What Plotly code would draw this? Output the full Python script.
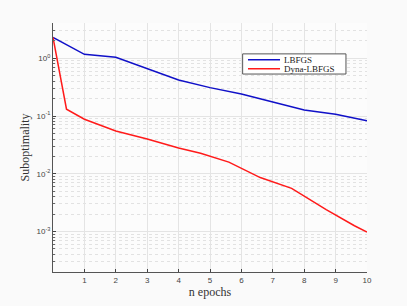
import plotly.graph_objects as go

# Data
lbfgs_x = [0, 1, 2, 3, 4, 5, 6, 7, 8, 9, 10]
lbfgs_y = [2.3, 1.17, 1.04, 0.67, 0.42, 0.31, 0.24, 0.175, 0.127, 0.107, 0.083]

dyna_x = [0, 0.43, 1, 2, 3, 4, 4.7, 5.6, 6.6, 7.6, 8.7, 9.6, 10]
dyna_y = [2.3, 0.131, 0.088, 0.055, 0.040, 0.028, 0.0227, 0.0159, 0.0086, 0.0056, 0.0024, 0.00126, 0.00098]

series_names = ["LBFGS", "Dyna-LBFGS"]
series_colors = ["#1010c8", "#ff1a1a"]

x_ticks = [1, 2, 3, 4, 5, 6, 7, 8, 9, 10]
y_ticks = [1, 0.1, 0.01, 0.001]
y_ticktext = ["10<sup>0</sup>", "10<sup>-1</sup>", "10<sup>-2</sup>", "10<sup>-3</sup>"]
y_minor = [m * 10.0 ** e for e in range(-4, 1) for m in range(2, 10)]

fig = go.Figure()
fig.add_trace(go.Scatter(x=lbfgs_x, y=lbfgs_y, mode="lines", name=series_names[0],
                         line=dict(color=series_colors[0], width=1.5)))
fig.add_trace(go.Scatter(x=dyna_x, y=dyna_y, mode="lines", name=series_names[1],
                         line=dict(color=series_colors[1], width=1.5)))

serif = "Liberation Serif, Times New Roman, serif"
sans = "Liberation Sans, Arial, sans-serif"

# Compact legend drawn as decoration (paper coordinates)
box = dict(x0=0.604, x1=0.933, y0=0.795, y1=0.876)
rows_y = [0.852, 0.816]
shapes = [dict(type="rect", xref="paper", yref="paper", **box,
               line=dict(color="#555555", width=1), fillcolor="#ffffff", layer="above")]
annotations = []
for name, color, ry in zip(series_names, series_colors, rows_y):
    shapes.append(dict(type="line", xref="paper", yref="paper", x0=0.621, x1=0.723,
                       y0=ry, y1=ry, line=dict(color=color, width=1.5), layer="above"))
    annotations.append(dict(xref="paper", yref="paper", x=0.73, y=ry, xanchor="left",
                            yanchor="middle", text=name, showarrow=False,
                            font=dict(family=serif, size=9, color="#222222")))

fig.update_layout(
    width=407, height=306,
    margin=dict(l=53, r=40, t=23, b=34),
    paper_bgcolor="#fafafa",
    plot_bgcolor="#fcfcfc",
    showlegend=False,
    shapes=shapes,
    annotations=annotations,
    xaxis=dict(
        range=[0, 10], tickvals=x_ticks, ticks="inside", ticklen=3,
        tickcolor="#444444", showline=True, linecolor="#555555", linewidth=1,
        showgrid=True, gridcolor="#e4e4e4", gridwidth=1, zeroline=False,
        automargin=False,
        tickfont=dict(family=sans, size=8, color="#444444"),
        title=dict(text="n epochs", font=dict(family=serif, size=12, color="#333333"), standoff=2),
    ),
    yaxis=dict(
        type="log", range=[-3.7, 0.61], tickvals=y_ticks, ticktext=y_ticktext,
        ticks="inside", ticklen=3, tickcolor="#444444",
        showline=True, linecolor="#555555", linewidth=1,
        showgrid=True, gridcolor="#e4e4e4", gridwidth=1, zeroline=False,
        automargin=False,
        tickfont=dict(family=sans, size=8, color="#444444"),
        title=dict(text="Suboptimality", font=dict(family=serif, size=12, color="#333333"), standoff=4),
        minor=dict(tickmode="array", tickvals=y_minor, ticks="inside", ticklen=2,
                   tickcolor="#666666", showgrid=True, gridcolor="#e2e2e2",
                   griddash="dot", gridwidth=1),
    ),
)

fig.write_html("out.html", config={"displayModeBar": False},
               post_script="document.body.style.margin='0';document.body.style.background='#fafafa';")
